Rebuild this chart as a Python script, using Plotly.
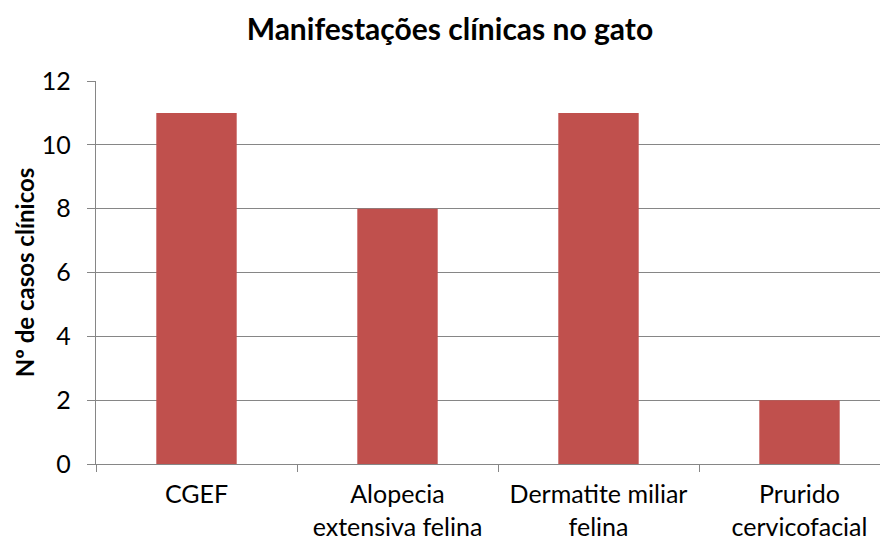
import plotly.graph_objects as go

categories = ["CGEF", "Alopecia<br>extensiva felina", "Dermatite miliar<br>felina", "Prurido<br>cervicofacial"]
values = [11, 8, 11, 2]
y_ticks = [0, 2, 4, 6, 8, 10, 12]

FONT = "Lato, Open Sans, sans-serif"

fig = go.Figure(go.Bar(x=categories, y=values, marker=dict(color="#C0504D", line=dict(width=0)), width=0.4))

fig.update_layout(
    width=900, height=532,
    margin=dict(l=88, r=8, t=73, b=76, autoexpand=False),
    paper_bgcolor="white", plot_bgcolor="white",
    showlegend=False,
    font=dict(family=FONT, size=25, color="black"),
    title=dict(text="<b>Manifestações clínicas no gato</b>", x=0.491, xanchor="center", xref="container",
               y=0.959, yanchor="middle", font=dict(size=30, family=FONT, color="black")),
)
fig.update_xaxes(
    type="category", tickson="boundaries", ticks="outside", ticklen=7, tickcolor="#868686",
    showline=True, linecolor="#868686", linewidth=1.3, showgrid=False, automargin=False,
    tickfont=dict(size=25), range=[-0.5, 3.5], fixedrange=True, ticklabelstandoff=8,
)
fig.update_yaxes(
    range=[0, 12], tickvals=y_ticks, ticks="outside", ticklen=8, tickcolor="#868686",
    showline=True, linecolor="#868686", linewidth=1.3, automargin=False,
    showgrid=True, gridcolor="#868686", gridwidth=1.3, zeroline=False,
    tickfont=dict(size=25), ticklabelstandoff=11,
    title=dict(text="<b>Nº de casos clínicos</b>", font=dict(size=24), standoff=0),
)
fig.write_html("out.html")
